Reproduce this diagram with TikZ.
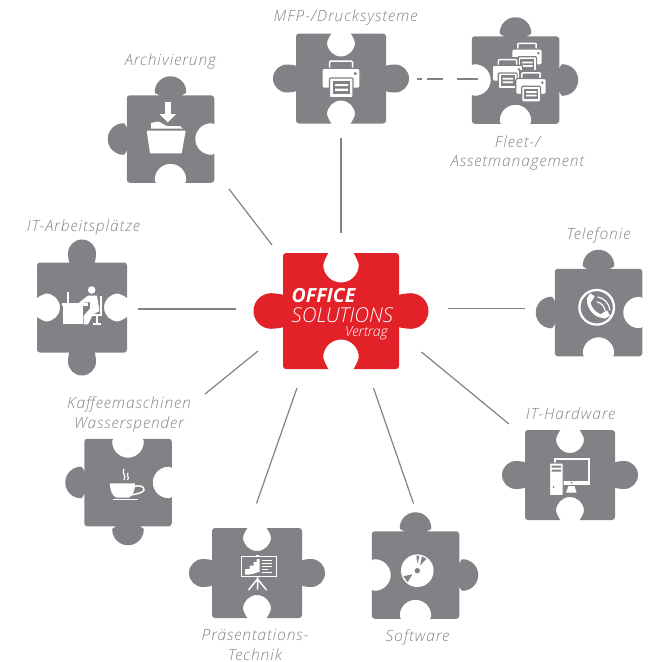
\documentclass[tikz,border=0pt]{standalone}
\usepackage{fontspec}
\setmainfont{Open Sans}
\newfontfamily\lightfont{Open Sans}[UprightFont=* Light,ItalicFont=* Light Italic,BoldItalicFont=* Bold Italic,LetterSpace=6.2]
\newfontfamily\logofont{Open Sans}[UprightFont=* Light,ItalicFont=* Light Italic,BoldItalicFont=* Bold Italic]
\usepackage{tikz}
\usetikzlibrary{positioning}
\definecolor{piecegray}{RGB}{128,130,133}
\definecolor{captiongray}{RGB}{130,132,135}
\definecolor{corered}{RGB}{227,33,41}
\tikzstyle{piece_box} = [rectangle, inner sep=0pt, outer sep=0pt]
\tikzstyle{caption} = [inner sep=0pt, align=center, text=captiongray, font=\lightfont\itshape\fontsize{15.5}{19.5}\selectfont]
\tikzstyle{link} = [piecegray, line width=1.2pt]
\tikzstyle{icon_line} = [white, line width=1.5pt]
\tikzstyle{logo} = [inner sep=0pt, text=white, anchor=base west]
% side shapes: half size, radius, centre offset, half neck, wider neck of a tab
\newcommand{\widetype}{\def\ph{43.75}\def\pr{15.8}\def\pd{3.2}\def\pn{14.5}\def\pe{-1.75}}
\newcommand{\narrowtype}{\def\ph{45}\def\pr{14}\def\pd{9}\def\pn{9.5}\def\pe{1.5}}
\newcommand{\coretype}{\def\ph{58}\def\pr{17.8}\def\pd{11.7}\def\pn{12.5}\def\pe{1.75}}
% one side of a piece, #1 rotation, #2 is 1 for a tab and -1 for a notch
\newcommand{\puzzleside}[2]{
  {[rotate=#1] -- ({-\pn-(1+#2)*\pe},{-\ph})
    .. controls ({-\pn-(1+#2)*\pe-1},{-\ph-#2*0.5}) and ({-\pr},{-\ph-#2*(\pd-1.5)}) .. ({-\pr},{-\ph-#2*\pd})
    .. controls ({-\pr},{-\ph-#2*(\pd+.5523*\pr)}) and ({-.5523*\pr},{-\ph-#2*(\pd+\pr)}) .. (0,{-\ph-#2*(\pd+\pr)})
    .. controls ({.5523*\pr},{-\ph-#2*(\pd+\pr)}) and ({\pr},{-\ph-#2*(\pd+.5523*\pr)}) .. ({\pr},{-\ph-#2*\pd})
    .. controls ({\pr},{-\ph-#2*(\pd-1.5)}) and ({\pn+(1+#2)*\pe+1},{-\ph-#2*0.5}) .. ({\pn+(1+#2)*\pe},{-\ph})
    -- ({\ph-3},{-\ph}) .. controls ({\ph-1.3},{-\ph}) and ({\ph},{-\ph+1.3}) .. ({\ph},{-\ph+3})
  }
}
% name, x, y, then top, right, bottom, left
\newcommand{\puzzlepiece}[8][piecegray]{
  \begin{scope}[shift={(#3,#4)}]
    \fill[#1] ({-\ph+3},{-\ph}) \puzzleside{0}{#5} \puzzleside{-90}{#6} \puzzleside{180}{#7} \puzzleside{90}{#8} -- cycle;
  \end{scope}
  \node[piece_box, minimum width=2*\ph pt, minimum height=2*\ph pt] (#2) at (#3,#4) {};
}
\newcommand{\printericon}[3]{
  \begin{scope}[shift={(#1,#2)},scale=#3]
    \draw[piecegray, line width=4pt, fill=piecegray] (-12,-18.3) rectangle (12,-10);
    \draw[white, line width=1.5pt, fill=piecegray, rounded corners=1pt] (-11.5,-10) -- (-11.5,-17.8) -- (11.5,-17.8) -- (11.5,-10);
    \fill[white, draw=piecegray, line width=1.2pt, rounded corners=2pt] (-19,-10.7) rectangle (19,9.3);
    \fill[white, draw=piecegray, line width=1.2pt, rounded corners=1pt] (-11.5,-1) rectangle (12,18.6);
    \fill[piecegray] (-8.3,2) rectangle (9,15.3);
    \fill[white] (-6,5) rectangle (7,7.2) (-6,9.6) rectangle (7,11.8);
    \fill[piecegray] (14.3,-5.5) circle (1.7pt);
  \end{scope}
}
\begin{document}
\begin{tikzpicture}[x=1pt,y=-1pt]
    \useasboundingbox (0,0) rectangle (649,662);
    % Pieces -----------------------------------------------------------------------------------
    \coretype
    \puzzlepiece[corered]{core}{341}{311}{-1}{1}{-1}{1}
    \widetype
    \puzzlepiece{arch}{170.5}{139}{1}{-1}{-1}{1}
    \puzzlepiece{fleet}{515.5}{80}{1}{1}{-1}{-1}
    \puzzlepiece{phone}{598.5}{312.5}{1}{-1}{-1}{1}
    \puzzlepiece{coffee}{128}{482.5}{-1}{-1}{1}{1}
    \puzzlepiece{soft}{415.5}{575}{1}{1}{-1}{-1}
    \narrowtype
    \puzzlepiece{mfp}{341}{78.5}{-1}{1}{-1}{1}
    \puzzlepiece{desk}{82}{307.5}{1}{-1}{1}{-1}
    \puzzlepiece{show}{257}{573}{-1}{1}{-1}{1}
    \puzzlepiece{hard}{570}{475}{-1}{1}{-1}{1}
    % Captions ---------------------------------------------------------------------------------
    \node[caption] (mfp_text) at (345.5,17) {MFP-/Drucksysteme};
    \node[caption] (arch_text) at (170.5,61.5) {Archivierung};
    \node[caption] (fleet_text) at (517.5,153) {Fleet-/\\Assetmanagement};
    \node[caption] (phone_text) at (598.5,235) {Telefonie};
    \node[caption] (desk_text) at (83.5,227) {IT-Arbeitsplätze};
    \node[caption] (hard_text) at (570.5,414) {IT-Hardware};
    \node[caption] (coffee_text) at (129,414.5) {Kaffeemaschinen\\Wasserspender};
    \node[caption] (show_text) at (255,645) {Präsentations-\\Technik};
    \node[caption] (soft_text) at (417.5,637) {Software};
    % Core text --------------------------------------------------------------------------------
    \node[logo, font=\logofont\bfseries\itshape\fontsize{19.5}{20}\selectfont] (core_office) at (291.5,302.5) {OFFICE};
    \node[logo, font=\logofont\itshape\fontsize{20.5}{20}\selectfont] (core_solutions) at (291.5,322.5) {SOLUTIONS};
    \node[logo, font=\logofont\itshape\fontsize{14}{14}\selectfont] (core_vertrag) at (345,336) {Vertrag};
    % Icons ------------------------------------------------------------------------------------
    \printericon{341}{79}{1}
    \printericon{527}{57.5}{.8}
    \printericon{507.5}{73.8}{.8}
    \printericon{531}{87}{.8}
    % folder
    \fill[white] (165,101.7) rectangle (170.7,115);
    \fill[white] (159.3,114) -- (176,114) -- (167.7,122.3) -- cycle;
    \fill[white] (151,128.7) -- (151,123) -- (158,121.5) .. controls (162,122) and (164,126) .. (168,126) -- (180,126) -- (183,128.7) -- cycle;
    \fill[white, rounded corners=.7pt] (146.7,130.7) -- (185.7,130.7) -- (181.7,153.3) -- (150,153.3) -- cycle;
    % desk
    \fill[white] (91.7,290) circle (3.8pt);
    \fill[white] (63.3,303) rectangle (83.3,324.3);
    \fill[white] (62.3,303) rectangle (88.3,305.5);
    \fill[white] (66.7,291.7) rectangle (69.3,303);
    \fill[white] (78,303.5) -- (88,295.5) -- (97,295.5) -- (99.5,311) -- (93,314.5) -- (88,324.3) -- (83.5,324.3) -- (83.5,316) -- (90,308.5) -- (90,302) -- cycle;
    \draw[icon_line, line width=1.1pt] (101,296) -- (101,315) -- (92,315);
    \draw[icon_line, line width=1.1pt] (97,315) -- (97,323.5) (93,324) -- (101,324);
    % cup
    \fill[white] (110,483.3) -- (135,483.3) .. controls (135,491) and (133,495) .. (129,497.5) -- (116,497.5) .. controls (112,495) and (110,491) .. (110,483.3) -- cycle;
    \draw[icon_line] (134,486.5) .. controls (138,485) and (145,486) .. (144,490) .. controls (143,493) and (136,494) .. (131,495);
    \draw[icon_line, line width=1.1pt] (113.3,499.5) -- (138.3,499.5);
    \draw[icon_line, line width=1.2pt] (124,469) .. controls (121,473) and (127,475) .. (124,480);
    \draw[icon_line, line width=1.2pt] (128,473) .. controls (126,476) and (130,477) .. (127.5,480);
    % easel
    \draw[icon_line] (241.5,556.5) rectangle (276.5,576.5);
    \fill[white] (256,554.5) rectangle (259,557);
    \draw[icon_line] (257.5,577) -- (257.5,589.5) (248.5,590) -- (257.5,579) -- (266.5,590);
    \fill[white] (245,569) rectangle (249.5,574.5) (249.5,565.5) rectangle (253.5,574) (253.5,562) rectangle (256.5,573) (256.5,559) rectangle (259.5,572);
    \draw[icon_line, line width=1pt] (261.5,560) -- (272,560) (261.5,563) -- (272,563) (261.5,566) -- (272,566) (261.5,569) -- (268,569) (261.5,572) -- (272,572);
    % telephone
    \draw[white, line width=2.3pt] (596.7,307.3) ++(-300:17.3) arc[start angle=300,end angle=-60,radius=17.3pt];
    \draw[white, line width=3.5pt, line cap=round] (589,299) .. controls (587,307) and (597,318) .. (605,316);
    \fill[white, rotate around={-30:(591,297.5)}] (588,294.5) rectangle (593.5,301);
    \fill[white, rotate around={-60:(606,314.5)}] (603,311.5) rectangle (609,318);
    \draw[white, line width=1.2pt] (595,311.7) ++(-80:15) arc[start angle=80,end angle=5,radius=15pt];
    \draw[white, line width=1.2pt] (595,311.7) ++(-80:10) arc[start angle=80,end angle=5,radius=10pt];
    % computer
    \draw[white, line width=1.5pt] (555,458.8) rectangle (589,484.5);
    \fill[white] (555,481) rectangle (589.5,485.2);
    \fill[white] (568.5,486) -- (574.5,486) -- (576.5,492.5) -- (566,492.5) -- cycle;
    \fill[white, draw=piecegray, line width=1pt, rounded corners=1pt] (549.5,463) rectangle (563,495.5);
    \fill[piecegray] (551.5,465.5) rectangle (561,467.5) (551.5,469.5) rectangle (561,471.5);
    \fill[piecegray] (553.5,487) circle (1pt) (571.5,482.7) circle (1pt);
    % disc
    \fill[white] (417.3,570.7) circle (16.3pt);
    \fill[piecegray] (417.3,570.7) +(-82:15) -- +(-94:15) -- +(-88:7) -- cycle;
    \fill[piecegray] (417.3,570.7) +(-52:15) -- +(-72:15) -- +(-62:6) -- cycle;
    \fill[piecegray] (417.3,570.7) +(130:15) -- +(158:15) -- +(144:6) -- cycle;
    \fill[piecegray] (417.3,570.7) circle (2.7pt);
    % Connectors -------------------------------------------------------------------------------
    \coordinate (mfp_out) at (341,138);
    \coordinate (mfp_in) at (341,233);
    \coordinate (fleet_out) at (478.3,79);
    \coordinate (fleet_in) at (417.3,79);
    \coordinate (arch_out) at (229,189);
    \coordinate (arch_in) at (272,245);
    \coordinate (desk_out) at (138,309);
    \coordinate (desk_in) at (236,309);
    \coordinate (coffee_out) at (205,394);
    \coordinate (coffee_in) at (258,351);
    \coordinate (show_out) at (256.5,503.5);
    \coordinate (show_in) at (297,388);
    \coordinate (soft_out) at (413.5,503.5);
    \coordinate (soft_in) at (373.5,388);
    \coordinate (hard_out) at (509,424);
    \coordinate (hard_in) at (421.5,352);
    \coordinate (phone_out) at (525,308.7);
    \coordinate (phone_in) at (448.3,308.7);
    \draw[link] (mfp_in) -- (mfp_out);
    \draw[link] (arch_in) -- (arch_out);
    \draw[link] (desk_in) -- (desk_out);
    \draw[link] (coffee_in) -- (coffee_out);
    \draw[link] (show_in) -- (show_out);
    \draw[link] (soft_in) -- (soft_out);
    \draw[link] (hard_in) -- (hard_out);
    \draw[link] (phone_in) -- (phone_out);
    \draw[link, dash pattern=on 4.4pt off 5pt on 16pt off 14pt on 22pt off 100pt] (fleet_in) -- (fleet_out);
\end{tikzpicture}
\end{document}
